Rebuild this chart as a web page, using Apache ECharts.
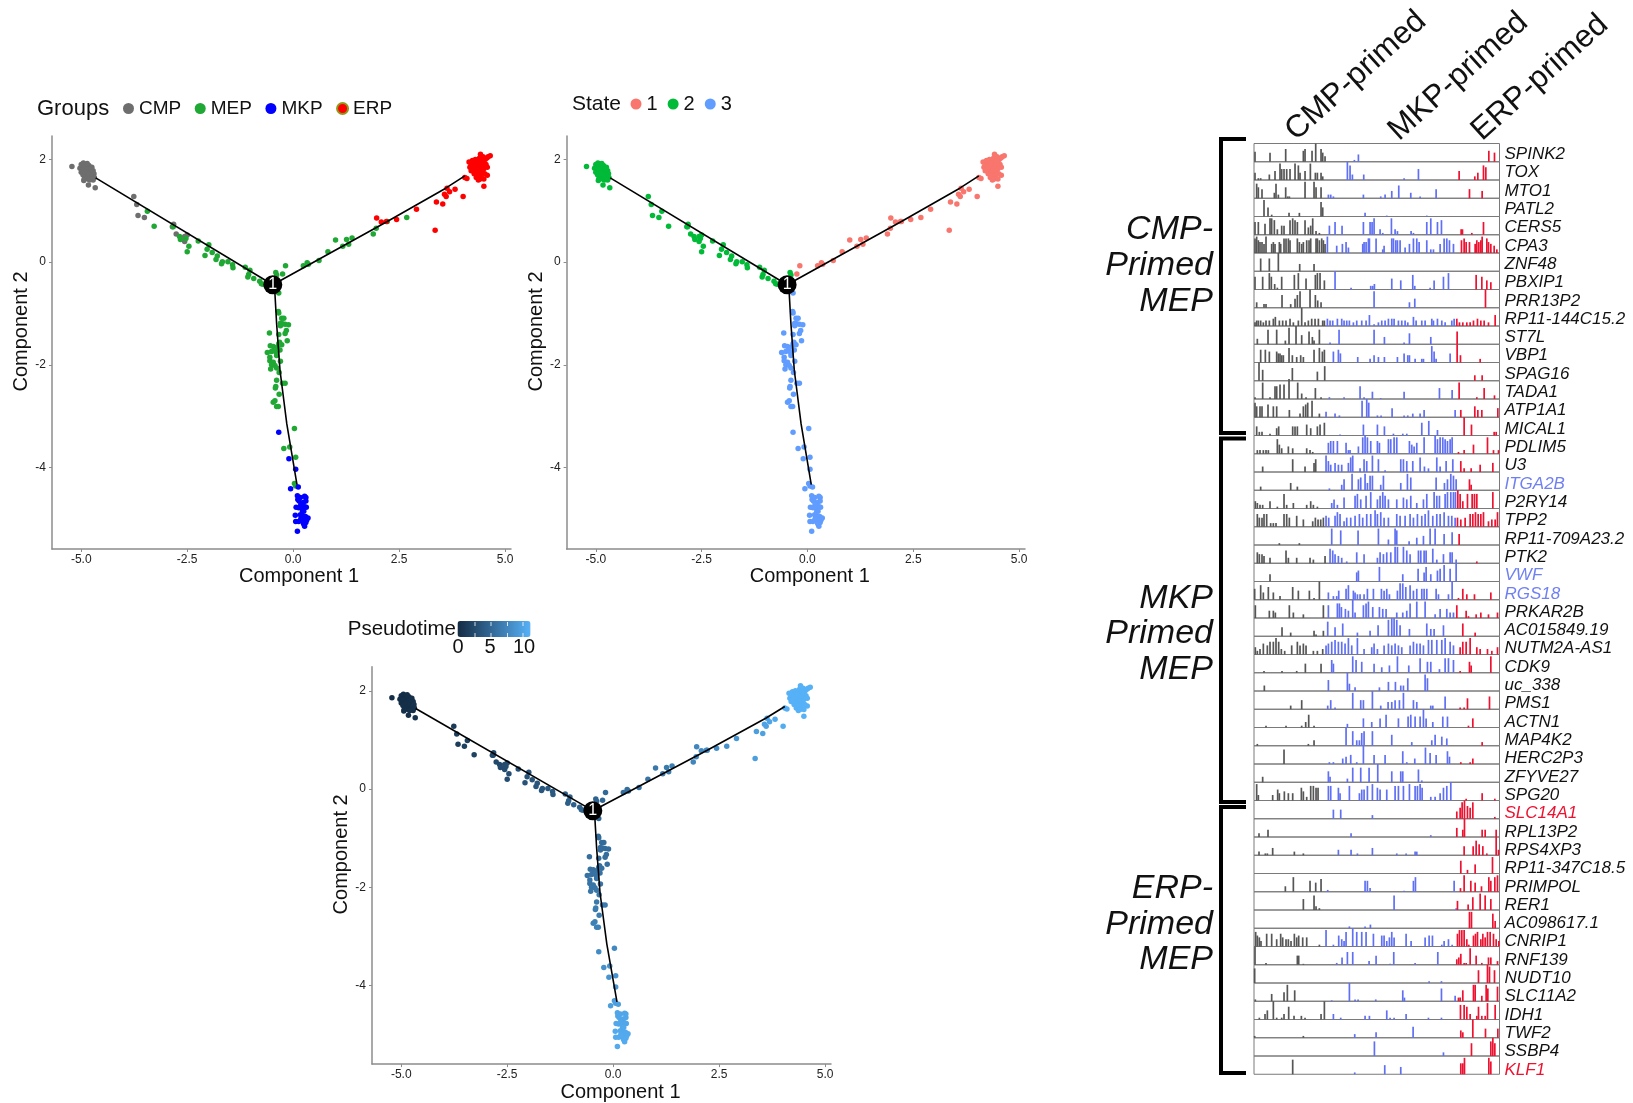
<!DOCTYPE html>
<html><head><meta charset="utf-8"><title>MEP priming</title>
<script src="https://cdn.jsdelivr.net/npm/echarts@6/dist/echarts.min.js"></script>
<style>html,body{margin:0;padding:0;background:#fff}#c{width:1633px;height:1103px}</style>
</head><body><div id="c"></div>
<script>
// ---------- trajectory cells: [component1, component2, state, pseudotime] ----------
const cmpCells = [[-5.22,1.86,2,.2],[-4.67,1.45,2,.5],[-4.83,1.5,2,.4],[-4.94,1.59,2,.3],[-5.03,1.83,2,.2],[-5,1.9,2,.2],[-4.97,1.78,2,.2],[-4.95,1.93,2,.2],[-4.93,1.85,2,.2],[-4.92,1.72,2,.3],[-4.9,1.8,2,.3],[-4.9,1.66,2,.3],[-4.88,1.9,2,.3],[-4.87,1.75,2,.3],[-4.86,1.68,2,.3],[-4.85,1.84,2,.3],[-4.84,1.62,2,.4],[-4.82,1.78,2,.3],[-4.82,1.88,2,.3],[-4.8,1.7,2,.4],[-4.79,1.8,2,.4],[-4.78,1.64,2,.4],[-4.76,1.74,2,.4],[-4.75,1.85,2,.4],[-4.74,1.68,2,.4],[-4.72,1.6,2,.5],[-4.72,1.78,2,.4],[-4.7,1.72,2,.5],[-4.69,1.65,2,.5],[-5,1.75,2,.2],[-4.96,1.7,2,.3],[-4.93,1.62,2,.3],[-4.88,1.82,2,.3],[-4.84,1.72,2,.3],[-4.8,1.6,2,.4],[-4.77,1.82,2,.4],[-4.75,1.62,2,.4],[-4.91,1.76,2,.3],[-4.86,1.92,2,.3],[-4.95,1.82,2,.2],[-3.76,1.28,2,1.2],[-3.69,1.12,2,1.3],[-3.66,.91,2,1.3],[-3.51,.87,2,1.5],[-2.82,.74,2,2.1],[-2.85,.69,2,2.1],[-2.76,.55,2,2.2],[-2.5,.53,2,2.4],[-2.56,.4,2,2.4],[-2.56,.5,2,2.4]];
const mepCells = [[-3.44,.99,2,1.5],[-3.28,.7,2,1.7],[-2.83,.69,2,2.1],[-2.68,.5,2,2.2],[-2.66,.44,2,2.3],[-2.53,.46,2,2.4],[-2.46,.31,2,2.5],[-2.5,.2,2,2.5],[-2.24,.41,2,2.7],[-1.99,.34,2,2.9],[-2.03,.25,2,2.9],[-2.08,.13,2,2.9],[-1.91,.19,2,3],[-1.79,.12,2,3.1],[-1.82,.05,2,3.1],[-1.67,.01,2,3.2],[-1.69,-.03,2,3.2],[-1.54,.01,2,3.3],[-1.43,-.05,2,3.4],[-1.42,-.11,2,3.4],[-1.13,-.1,2,3.7],[-1.02,-.16,2,3.8],[-1.05,-.24,2,3.8],[-1.07,-.29,2,3.8],[-.93,-.32,2,3.9],[-.79,-.37,2,4],[-.75,-.42,2,4],[-.71,-.43,2,4.1],[-.41,-.2,2,4.2],[-.39,-.25,2,4.2],[-.25,-.23,1,4.4],[-.18,-.07,1,4.5],[-.34,-.6,3,4.3],[.24,-.07,1,4.8],[.33,-.01,1,4.9],[.36,-.04,1,4.9],[.61,.03,1,5.1],[.82,.2,1,5.4],[1,.43,1,5.6],[1.17,.31,1,5.8],[1.26,.44,1,5.9],[1.31,.35,1,6],[1.39,.47,1,6.1],[1.89,.55,1,6.6],[1.96,.66,1,6.7],[2.22,.79,1,7],[2.68,.87,1,7.5],[-.35,-.96,3,4.6],[-.34,-.99,3,4.6],[-.27,-1.09,3,4.7],[-.22,-1.09,3,4.7],[-.3,-1.19,3,4.8],[-.25,-1.2,3,4.8],[-.19,-1.21,3,4.8],[-.11,-1.22,3,4.8],[-.3,-1.24,3,4.8],[-.16,-1.33,3,4.9],[-.19,-1.39,3,4.9],[-.56,-1.38,3,4.9],[-.34,-1.41,3,4.9],[-.14,-1.53,3,5],[-.32,-1.56,3,5],[-.34,-1.59,3,5],[-.27,-1.61,3,5],[-.54,-1.63,3,5.1],[-.47,-1.64,3,5.1],[-.37,-1.65,3,5.1],[-.61,-1.76,3,5.2],[-.51,-1.74,3,5.2],[-.43,-1.73,3,5.2],[-.39,-1.77,3,5.2],[-.31,-1.71,3,5.2],[-.39,-1.82,3,5.3],[-.55,-1.85,3,5.3],[-.55,-1.92,3,5.3],[-.3,-1.93,3,5.4],[-.47,-1.95,3,5.4],[-.51,-2,3,5.4],[-.43,-2.01,3,5.4],[-.53,-2.08,3,5.5],[-.39,-2.06,3,5.5],[-.33,-2.15,3,5.6],[-.39,-2.3,3,5.7],[-.25,-2.36,3,5.8],[-.19,-2.36,3,5.8],[-.42,-2.45,3,5.9],[-.41,-2.42,3,5.9],[-.33,-2.57,3,6],[-.47,-2.73,3,6.2],[-.43,-2.7,3,6.2],[-.39,-2.81,3,6.3],[-.35,-2.81,3,6.3],[.03,-3.24,3,6.9],[-.08,-3.6,3,7.4],[-.22,-3.63,3,7.4],[.06,-3.8,3,7.7],[.03,-4.31,3,8.3],[.06,-4.36,3,8.4]];
const mkpCells = [[-.34,-3.31,3,7],[-.1,-3.83,3,7.7],[.06,-4.03,3,8],[-.06,-4.41,3,8.4],[.12,-4.38,3,8.4],[.1,-5.24,3,9.3],[.1,-4.55,3,9],[.11,-4.62,3,9],[.14,-4.65,3,9],[.17,-4.58,3,9],[.27,-4.56,3,9],[.3,-4.58,3,9],[.3,-4.65,3,9],[.24,-4.68,3,9],[.18,-4.72,3,9],[.07,-4.77,3,9.1],[.13,-4.78,3,9.1],[.2,-4.78,3,9.1],[.27,-4.76,3,9.1],[.31,-4.77,3,9.1],[.22,-4.85,3,9.2],[.25,-4.85,3,9.2],[.05,-4.93,3,9.2],[.17,-4.92,3,9.2],[.2,-4.98,3,9.2],[.24,-4.95,3,9.2],[.29,-4.95,3,9.2],[.35,-4.98,3,9.2],[.32,-5.02,3,9.3],[.27,-5.03,3,9.3],[.22,-5.02,3,9.3],[.06,-5.05,3,9.3],[.13,-5.05,3,9.3],[.3,-5.07,3,9.3],[.25,-5.1,3,9.3],[.27,-5.14,3,9.3],[.24,-5.08,3,9.3],[.18,-5,3,9.3]];
const erpCells = [[1.97,.86,1,6.7],[2.08,.78,1,6.9],[2.2,.79,1,7],[2.44,.83,1,7.2],[2.91,1.03,1,7.8],[3.35,.62,1,8.4],[3.38,1.17,1,8.4],[3.53,1.13,1,8.6],[3.57,1.32,1,8.7],[3.61,1.28,1,8.8],[3.63,1.44,1,8.8],[3.69,1.37,1,8.9],[3.82,1.42,1,9.1],[4.01,1.28,1,9.4],[4.05,1.65,1,9.5],[4.1,1.63,1,9.6],[4.5,1.48,1,10.2],[4.58,1.69,1,10.3],[4.15,1.95,1,10.2],[4.17,1.85,1,10.2],[4.2,1.9,1,10.3],[4.2,1.78,1,10.3],[4.23,1.98,1,10.3],[4.25,1.85,1,10.3],[4.27,1.72,1,10.3],[4.28,1.92,1,10.3],[4.3,1.8,1,10.4],[4.3,2,1,10.4],[4.32,1.65,1,10.4],[4.33,1.88,1,10.4],[4.35,1.75,1,10.4],[4.36,1.95,1,10.4],[4.37,1.6,1,10.4],[4.38,1.85,1,10.4],[4.4,2.03,1,10.4],[4.4,1.7,1,10.4],[4.41,1.92,1,10.4],[4.42,1.8,1,10.4],[4.42,2.1,1,10.5],[4.44,1.65,1,10.5],[4.45,1.98,1,10.5],[4.46,1.87,1,10.5],[4.47,1.75,1,10.5],[4.48,2.05,1,10.5],[4.5,1.92,1,10.5],[4.5,1.82,1,10.5],[4.52,1.72,1,10.5],[4.53,2,1,10.5],[4.55,1.9,1,10.5],[4.57,2.03,1,10.6],[4.6,2.05,1,10.6],[4.65,2.07,1,10.6],[4.34,1.82,1,10.4],[4.39,1.78,1,10.4],[4.44,1.9,1,10.5],[4.28,1.85,1,10.3],[4.33,1.93,1,10.4],[4.47,1.97,1,10.5],[4.37,1.7,1,10.4],[4.41,1.62,1,10.4],[4.24,1.8,1,10.3],[4.58,1.85,1,10.6],[4.5,1.62,1,10.5]];
// ---------- backbone of the tree ----------
const branchPoint = [-.48,-.44];
const backboneLeft = [[-4.66,1.64],[-.48,-.44]];
const backboneRight = [[-.48,-.44],[2.22,.79],[3.6,1.44],[4.05,1.68]];
const backboneDown = [[-.48,-.44],[-.43,-.61],[-.39,-1.2],[-.31,-2.11],[-.15,-3.15],[.09,-4.33]];
const xTicks = [-5,-2.5,0,2.5,5];
const yTicks = [-4,-2,0,2];
const pseudotimeTicks = [0,5,10];
const pseudotimeColors = ['#132B43','#56B1F7'];
const groupNames = ['CMP','MEP','MKP','ERP'];
const groupColors = ['#6e6e6e','#1fa834','#0000ff','#ff0000'];
const stateNames = ['1','2','3'];
const stateColors = ['#F8766D','#00BA38','#619CFF'];

// ---------- heat-strip panel ----------
const geneNames = ['SPINK2','TOX','MTO1','PATL2','CERS5','CPA3','ZNF48','PBXIP1','PRR13P2','RP11-144C15.2','ST7L','VBP1','SPAG16','TADA1','ATP1A1','MICAL1','PDLIM5','U3','ITGA2B','P2RY14','TPP2','RP11-709A23.2','PTK2','VWF','RGS18','PRKAR2B','AC015849.19','NUTM2A-AS1','CDK9','uc_338','PMS1','ACTN1','MAP4K2','HERC2P3','ZFYVE27','SPG20','SLC14A1','RPL13P2','RPS4XP3','RP11-347C18.5','PRIMPOL','RER1','AC098617.1','CNRIP1','RNF139','NUDT10','SLC11A2','IDH1','TWF2','SSBP4','KLF1'];
const mkpMarkers = ['ITGA2B','VWF','RGS18'];
const erpMarkers = ['SLC14A1','KLF1'];
const primedNames = ['CMP-primed','MKP-primed','ERP-primed'];
const primedColors = ['#565656','#5f70f4','#ee1230'];
const cellFirst = 42, cellLast = 778, cmpLastCell = 256, mkpLastCell = 649.5;
// flat lists per gene: cell rank, expression, cell rank, expression ...
const geneExpression = [
[45,5.5,90,5,137,7,190,6,195,7,216,6,227,10,243,7,248,5,255,3,343,1,355,4,746,6,763,5],
[45,4,55,1,62,1,88,3,105,5,120,9,125,6,132,6,140,6,150,6,165,9,175,8,180,4,195,5,211,9,226,4,232,4,243,4,248,2,322,10,330,8,337,3,371,3,492,1,535,6,657,5,704,2,713,4,730,8,737,7],
[50,8,55,6,66,5,103,3,108,8,115,2,137,6,143,1,148,1,195,9,222,9,228,6,243,6,265,2,272,2,280,1,370,2,422,1,435,2,455,4,476,7,512,3,540,1,588,5,688,5,726,4],
[72,9,84,5,95,1,147,2,178,2,243,8,248,5,375,2,440,.5,560,.5],
[45,7,55,7,75,6,90,9,95,9,103,8,112,3,125,5,132,5,150,8,158,9,165,8,172,7,195,8,205,4,212,5,218,9,228,2,238,1,268,5,285,7,306,5,370,7,390,7,396,7,402,9,420,3,428,1,454,9,465,3,472,2,513,2,520,1,560,7,572,9,592,7,604,8,663,3,667,3,695,1,730,7],
[45,8,50,9,55,7,60,6,66,6,72,5,78,9,95,5,100,6,105,5,118,6,122,5,132,8,138,8,145,8,150,7,172,8,178,6,185,5,190,6,200,7,207,7,212,8,228,8,232,8,238,7,245,8,250,7,255,5,262,9,290,4,307,5,318,6,325,3,368,5,372,6,378,6,385,8,388,8,408,8,428,2,432,4,455,8,460,8,467,7,472,7,480,7,495,3,508,5,520,8,530,8,537,6,560,7,572,2,580,2,600,5,612,8,620,8,628,7,640,5,664,7,672,8,678,6,688,6,705,5,710,7,716,6,722,7,726,9,740,8,745,6,752,5,762,4,770,2],
[62,7,88,7,115,10,179,4,222,4],
[45,7,68,7,88,9,94,7,104,3,112,1,125,7,163,8,175,9,198,6,226,8,232,9,240,9,253,5,285,10,333,1,392,2,398,2,403,3,455,6,482,5,518,8,524,2,570,1,582,5,610,7,625,9,708,8,725,7,740,5,752,4],
[50,3,72,2,78,2,126,7,152,2,165,5,172,7,180,9,210,10,226,7,233,4,243,3,402,9,508,3,524,5,736,10],
[45,2,50,3,55,3,62,3,70,2,78,3,88,3,100,4,106,5,118,3,128,3,138,3,150,4,160,2,175,3,185,10,195,2,205,3,215,4,225,4,235,4,248,3,253,3,262,4,270,3,278,3,292,4,305,4,312,3,320,3,328,3,340,2,350,3,365,3,378,3,388,6,402,1,415,2,425,3,435,3,445,4,455,4,462,4,475,3,485,3,495,3,503,2,520,5,528,3,545,3,555,3,575,4,580,3,592,4,605,3,615,2,635,3,642,4,650,4,658,2,668,2,680,2,690,2,700,3,712,4,722,3,732,3,745,2,765,6],
[52,3,84,8,110,8,136,2,147,9,168,10,185,5,207,7,217,4,222,2,238,8,270,1,297,8,402,8,433,4,492,1,508,6,572,4,651,7],
[62,7,76,7,88,6,110,6,115,5,120,5,125,4,130,4,147,8,157,4,170,3,182,4,190,3,222,7,238,8,247,6,253,7,280,6,295,7,301,5,353,3,390,2,402,4,415,3,433,3,472,3,492,5,503,4,508,4,525,2,545,2,550,2,575,9,582,6,588,2,630,5,651,10,661,4,720,2],
[57,10,68,6,147,1,157,7,232,5,254,8,704,3,726,3],
[45,1,68,9,90,1,105,7,110,7,120,8,132,8,147,10,173,9,185,3,198,1,226,6,243,1,268,1,312,1,360,7,372,1,397,4,422,.5,492,4,598,6,636,5,657,9,710,1,732,6,763,2],
[45,8,50,6,60,6,66,6,84,7,100,6,110,6,148,4,180,2,190,6,197,7,203,8,216,9,238,2,258,3,285,2,298,1,366,9,380,10,386,8,412,1,423,1,456,5,492,1,503,1,518,2,540,2,552,4,645,4,662,4,704,6,713,4,725,4,773,5],
[50,5,58,2,66,2,90,1,110,4,116,5,158,5,165,5,172,5,200,6,212,4,232,5,240,6,253,7,300,.5,370,6,412,6,433,5,460,1,488,1,500,1,545,7,566,8,592,3,672,10,694,6,762,2,768,2],
[52,2,60,2,70,2,78,2,85,2,112,8,118,5,125,3,145,4,158,3,200,3,210,2,218,1,265,6,272,7,280,7,292,7,318,6,325,2,330,2,355,4,368,9,375,10,382,9,392,7,412,7,418,6,445,8,452,8,462,9,470,9,508,7,515,5,522,4,530,6,552,9,585,10,592,8,600,9,608,9,615,8,622,7,630,8,636,9,655,1,672,2,700,5,742,9,760,2,775,2],
[68,3,158,7,195,3,222,5,227,7,258,9,265,6,272,4,285,5,295,4,305,4,325,5,332,8,338,9,360,2,372,7,380,6,397,9,415,7,435,1,482,7,490,7,500,6,518,6,540,8,553,3,565,2,590,8,600,3,618,6,638,7,662,6,672,2,693,2,720,4,758,5],
[62,2,152,4,172,2,268,1,305,3,312,6,336,9,355,6,362,7,375,9,382,4,390,8,397,8,422,3,430,8,482,4,502,9,512,7,588,7,613,4,622,6,632,9,640,8,648,6,688,6,693,3],
[46,4,52,3,60,2,68,2,90,4,112,1,132,8,140,2,160,3,200,2,212,4,220,2,232,1,275,3,282,5,292,2,312,6,345,7,352,8,362,5,378,7,392,9,412,5,420,7,428,9,435,7,445,5,470,5,490,6,500,5,512,7,530,3,550,5,560,8,582,9,590,7,598,7,615,8,622,9,632,9,640,9,646,9,653,10,660,8,668,4,682,8,696,8,703,8,710,8,758,9],
[52,7,58,5,66,5,72,7,80,7,92,2,100,2,108,2,132,7,140,7,148,5,170,6,190,4,218,3,226,5,234,4,242,4,250,5,258,6,266,5,285,6,292,8,300,7,312,3,320,5,332,5,345,6,358,7,368,5,380,7,392,7,405,9,412,7,422,8,432,5,445,5,470,7,480,6,495,6,510,7,520,5,532,7,545,6,555,7,565,9,578,6,590,7,600,7,612,8,625,6,635,6,645,5,652,5,662,4,675,5,690,7,698,7,706,8,714,7,722,7,730,8,745,3,755,4,765,4,772,8],
[118,1,178,1,275,9,302,8,354,8,415,9,445,3,465,9,470,8,507,2,530,4,550,5,570,9,585,9,612,6,636,7,657,6],
[52,6,58,5,66,5,72,4,90,3,138,7,145,3,170,3,210,3,220,2,255,4,270,8,278,7,285,5,295,4,305,3,320,1,350,6,372,5,412,3,420,6,430,5,440,6,452,6,465,9,472,9,490,9,500,7,510,5,535,7,542,7,552,7,558,7,578,8,590,2,610,5,630,6,636,6,648,2,710,1],
[90,4,350,5,355,6,418,8,488,4,534,7,552,5,558,8,572,4,592,6,600,7,612,9,630,7,648,10],
[44,6,62,8,70,4,85,7,100,4,120,2,158,7,175,5,208,5,222,1,238,10,265,4,280,2,290,2,296,5,318,6,325,8,340,5,345,4,352,3,360,3,372,3,382,6,400,6,424,6,432,5,440,6,448,3,472,5,480,9,488,9,497,7,510,8,520,5,530,6,545,6,552,6,560,6,588,6,595,3,625,3,636,10,655,1,668,6,680,3,703,3,752,4],
[46,7,88,4,100,4,106,3,148,7,160,3,190,2,250,7,265,7,292,8,298,8,304,6,316,5,325,4,338,10,345,3,370,7,378,8,385,9,398,6,418,6,428,5,438,5,470,3,488,3,500,4,510,8,530,9,555,9,585,2,600,5,620,5,630,3,640,3,650,7,678,4,685,1,708,2,722,3,745,2,772,3],
[126,5,152,2,222,3,228,1,250,3,263,8,285,5,308,7,352,2,390,3,414,6,445,9,455,10,462,10,470,9,480,6,508,4,560,7,572,4,582,4,610,6,668,7,705,2],
[46,4,52,2,60,3,70,6,82,5,90,7,100,7,108,9,116,7,124,3,134,2,155,5,172,7,180,5,190,6,198,5,220,2,232,2,248,3,258,5,265,6,275,7,285,8,295,7,305,7,315,6,325,9,335,5,352,9,372,3,395,4,402,6,412,3,432,5,445,6,455,5,465,6,475,5,485,4,510,5,520,7,530,6,540,6,550,5,565,8,575,8,590,8,605,8,615,9,630,7,640,5,660,4,668,7,678,7,690,9,710,4,720,3,742,3,755,2,772,4],
[72,1,126,1,170,1,196,5,243,5,275,7,280,5,338,9,348,7,365,6,402,5,425,3,448,4,472,9,506,4,540,8,562,6,572,6,598,2,615,8,625,8,640,7,660,1,688,6,693,4,752,9],
[73,3,265,6,322,10,328,4,345,2,418,2,445,5,466,5,482,3,490,3,503,7,555,9,562,7],
[152,2,185,5,263,2,272,5,285,1,338,9,362,5,370,5,397,10,422,2,444,4,455,4,465,5,478,5,490,9,520,5,530,4,572,2,578,2,615,7,660,1,672,1,682,6,748,7],
[78,1,138,1,185,1,197,3,206,7,222,1,322,2,370,5,395,3,420,5,438,7,475,5,504,6,512,7,525,6,540,6,550,10,558,5,578,3,608,6,622,6,685,1,698,5],
[52,1,205,1,222,3,318,10,338,8,350,3,358,3,365,7,372,8,397,8,455,6,515,2,575,3,585,6,605,5,620,4,726,2],
[132,8,268,1,280,1,308,3,318,4,332,5,350,1,370,10,402,5,435,5,488,7,500,1,524,3,556,9,570,6,588,5,622,7,628,4,662,1,690,1,698,3],
[68,3,265,6,270,3,322,2,338,8,362,8,387,8,413,10,455,6,482,6,488,6,535,7,545,1],
[50,9,55,3,98,3,113,6,118,4,133,5,145,4,158,4,184,7,190,5,200,2,212,8,220,8,228,7,234,7,265,8,272,8,295,7,300,4,328,8,358,4,365,6,372,6,382,8,397,9,412,7,420,6,440,6,465,8,475,8,490,8,508,9,525,8,532,8,540,9,546,7,572,2,585,2,600,4,610,7,620,8,632,10,678,1,726,4,764,1],
[280,5,302,5,397,2,650,4,660,6,666,9,673,10,682,7,690,6,698,9,764,1],
[57,2,84,4,333,2,572,1,650,5,668,4,673,10,726,4,735,4,768,4],
[57,2,76,1,82,1,98,4,163,2,190,1,295,3,333,3,352,1,397,4,470,1,498,1,525,2,530,2,672,5,699,5,708,8,717,6,728,5,740,1,768,10,775,3],
[662,7,682,2,705,5,757,9],
[136,3,160,8,210,6,227,5,243,7,263,1,375,6,382,6,390,2,492,.5,520,6,526,8,642,6,661,2,672,9,692,6,705,5,724,3,746,8,752,6,764,8,772,9],
[190,6,222,8,228,2,238,1,462,8,648,1,652,5,684,3,698,7,720,9,735,8,752,6],
[328,1,375,1,391,2,688,9,694,9,758,8,765,4],
[47,8,52,6,58,5,63,3,80,7,95,7,110,4,122,7,128,5,138,4,145,4,153,3,163,7,170,5,176,6,188,5,200,5,238,1,258,9,280,1,296,6,305,4,312,3,318,8,338,10,350,8,365,8,378,8,400,7,425,6,432,6,440,3,448,5,455,8,462,5,498,7,513,3,555,5,567,6,577,6,605,1,612,3,625,4,636,1,652,7,658,9,665,9,672,9,680,4,686,1,700,6,706,7,712,8,722,4,728,7,735,5,742,8,750,8,760,7,768,4,776,3],
[45,10,78,1,172,5,176,5,190,.5,290,1,306,4,322,7,338,7,387,2,408,5,450,.5,461,7,525,1,593,7,650,3,656,4,662,6,672,1,678,1,690,9,708,5,725,1,745,4,752,4,772,2],
[44,8,567,1,604,1,715,7,742,10,748,9,763,7],
[46,1,95,4,132,5,142,9,164,6,275,.5,328,10,345,1,354,1,407,1,488,6,493,2,604,7,645,3,655,2,660,2,668,6,700,9,705,9,725,3,738,9,743,7,772,8],
[58,1,75,3,82,5,100,10,110,1,125,1,132,3,146,7,162,2,184,2,195,1,243,3,253,10,280,3,302,1,375,2,388,2,440,5,450,1,462,1,498,3,565,1,604,1,661,8,672,8,680,7,690,3,710,2,715,7,725,2,735,2,742,9,765,8],
[44,1,190,1,344,2,408,3,519,6,662,4,668,3,698,10,736,5,773,5],
[403,8,610,2,694,7,752,8,758,10,764,7],
[158,8,344,1,434,5,482,4,662,6,668,6,673,9,746,9,752,7]
];
const bracketLabels = [['CMP-','Primed','MEP'],['MKP','Primed','MEP'],['ERP-','Primed','MEP']];

// ---------- layout ----------
const FONT = '"Liberation Sans", Arial, sans-serif';
const panels = [
  {left:52,  right:511, top:136, bottom:549,  xMin:-5.69, xMax:5.14, yMin:-5.585, yMax:2.456, xPad:35, yPad:22},
  {left:566.6,right:1025,top:136, bottom:549, xMin:-5.69, xMax:5.14, yMin:-5.585, yMax:2.456, xPad:28, yPad:22},
  {left:372, right:831, top:666.7,bottom:1067,xMin:-5.69, xMax:5.14, yMin:-5.597, yMax:2.49,  xPad:38, yPad:22}
];
const grid=[], xAxis=[], yAxis=[], series=[], graphic=[];
const AXC='#8c8c8c';
panels.forEach((p,pi)=>{
  grid.push({left:p.left,top:p.top,width:p.right-p.left,height:p.bottom-p.top,show:false});
  xAxis.push({gridIndex:pi,type:'value',position:'bottom',min:p.xMin,max:p.xMax,name:'Component 1',nameLocation:'middle',nameGap:16,
    nameTextStyle:{fontFamily:FONT,fontSize:20,color:'#111',padding:[0,0,0,p.xPad]},
    axisLine:{show:true,onZero:false,lineStyle:{color:AXC,width:1.5}},
    axisTick:{show:true,length:3,lineStyle:{color:AXC},customValues:xTicks},
    axisLabel:{fontFamily:FONT,fontSize:12,color:'#222',margin:5,customValues:xTicks,formatter:v=>v.toFixed(1)},
    splitLine:{show:false}});
  yAxis.push({gridIndex:pi,type:'value',position:'left',min:p.yMin,max:p.yMax,name:'Component 2',nameLocation:'middle',nameGap:20,
    nameTextStyle:{fontFamily:FONT,fontSize:20,color:'#111',padding:[0,0,0,p.yPad]},
    axisLine:{show:true,onZero:false,lineStyle:{color:AXC,width:1.5}},
    axisTick:{show:true,length:3,lineStyle:{color:AXC},customValues:yTicks},
    axisLabel:{fontFamily:FONT,fontSize:12,color:'#222',margin:6,customValues:yTicks,formatter:v=>String(v)},
    splitLine:{show:false}});
});
function tree(i){
  [backboneLeft,backboneRight,backboneDown].forEach(b=>series.push({type:'line',xAxisIndex:i,yAxisIndex:i,data:b,symbol:'none',silent:true,z:4,lineStyle:{color:'#000',width:1.6}}));
  series.push({type:'scatter',xAxisIndex:i,yAxisIndex:i,data:[branchPoint],symbolSize:19,z:5,itemStyle:{color:'#000',opacity:1},
    label:{show:true,position:'inside',formatter:'1',color:'#fff',fontFamily:FONT,fontSize:16}});
}
const allCells=[...cmpCells,...mepCells,...mkpCells,...erpCells];
[cmpCells,mepCells,mkpCells,erpCells].forEach((d,k)=>series.push({type:'scatter',name:groupNames[k],xAxisIndex:0,yAxisIndex:0,data:d.map(c=>[c[0],c[1]]),symbolSize:5.5,itemStyle:{color:groupColors[k],opacity:1},z:2}));
tree(0);
stateNames.forEach((s,k)=>series.push({type:'scatter',name:s,xAxisIndex:1,yAxisIndex:1,data:allCells.filter(c=>String(c[2])===s).map(c=>[c[0],c[1]]),symbolSize:5.5,itemStyle:{color:stateColors[k],opacity:1},z:2}));
tree(1);
const pseudoIndex=series.length;
series.push({type:'scatter',name:'Pseudotime',xAxisIndex:2,yAxisIndex:2,data:allCells.map(c=>[c[0],c[1],c[3]]),symbolSize:5.5,itemStyle:{opacity:1},z:2});
tree(2);

// strips
const stripLeft=1254, stripWidth=245.5, stripTop=143.5, stripH=18.25;
geneNames.forEach((g,i)=>{
  const gi=grid.length;
  grid.push({left:stripLeft,top:stripTop+stripH*i,width:stripWidth,height:stripH,show:true,borderColor:'#7a7a7a',borderWidth:1,backgroundColor:'transparent'});
  const col=mkpMarkers.includes(g)?'#6f80f2':erpMarkers.includes(g)?'#ee1230':'#111';
  xAxis.push({gridIndex:gi,type:'value',min:cellFirst,max:cellLast,name:g,nameLocation:'end',nameGap:5,
    nameTextStyle:{fontFamily:FONT,fontStyle:'italic',fontSize:17,color:col,align:'left',verticalAlign:'bottom',lineHeight:14.9-6.2*i/50},
    axisLine:{show:false},axisTick:{show:false},axisLabel:{show:false},splitLine:{show:false}});
  yAxis.push({gridIndex:gi,type:'value',min:0,max:10,axisLine:{show:false},axisTick:{show:false},axisLabel:{show:false},splitLine:{show:false}});
  const flat=geneExpression[i], data=[];
  for(let k=0;k<flat.length;k+=2){
    const c=flat[k];
    data.push({value:[c,flat[k+1]],itemStyle:{color:primedColors[c<cmpLastCell?0:c<mkpLastCell?1:2]}});
  }
  series.push({type:'bar',name:g,xAxisIndex:gi,yAxisIndex:gi,data,barWidth:1.7,silent:true,clip:true});
});

// annotations
[[139,433],[438.5,802],[807,1073]].forEach(b=>graphic.push({type:'polyline',silent:true,shape:{points:[[1246,b[0]],[1221,b[0]],[1221,b[1]],[1246,b[1]]]},style:{stroke:'#000',lineWidth:4,fill:null}}));
[[229.5,266,301.5],[598.5,633.5,669.5],[888.5,924.5,959.5]].forEach((ys,k)=>ys.forEach((y,j)=>graphic.push({type:'text',silent:true,x:1213,y,style:{text:bracketLabels[k][j],fontFamily:FONT,fontStyle:'italic',fontSize:34,fill:'#111',align:'right',verticalAlign:'middle'}})));
[[1301,147],[1404,147],[1487,147]].forEach((p,k)=>graphic.push({type:'text',silent:true,x:p[0],y:p[1],rotation:42*Math.PI/180,style:{text:primedNames[k],fontFamily:FONT,fontSize:31.5,fill:'#111',align:'left',verticalAlign:'bottom'}}));
const txt=(text,x,y,size,align)=>graphic.push({type:'text',silent:true,z:100,x,y,style:{text,fontFamily:FONT,fontSize:size,fill:'#111',align:align||'left',verticalAlign:'middle'}});
txt('Groups',37,109,22);
txt('State',572,104.5,21);
txt('Pseudotime',456,629.5,20.5,'right');
const ptX=[458,490,524];
pseudotimeTicks.forEach((t,k)=>txt(String(t),ptX[k],647,20,'center'));
[475,491,507.5,523].forEach(x=>{[[622,626],[633,637]].forEach(s=>graphic.push({type:'line',silent:true,z:100,shape:{x1:x,y1:s[0],x2:x,y2:s[1]},style:{stroke:'rgba(255,255,255,0.8)',lineWidth:1}}));});

const option={
  animation:false,backgroundColor:'#fff',
  grid,xAxis,yAxis,series,graphic,
  legend:[
    {left:118,top:94,itemWidth:11,itemHeight:11,itemGap:13.5,selectedMode:false,icon:'circle',
     textStyle:{fontFamily:FONT,fontSize:19,color:'#111'},
     data:[{name:'CMP'},{name:'MEP'},{name:'MKP'},{name:'ERP',itemStyle:{color:'#ff0000',borderColor:'#8f9a1a',borderWidth:2}}]},
    {left:625.5,top:89,itemWidth:11,itemHeight:11,itemGap:10,selectedMode:false,icon:'circle',
     textStyle:{fontFamily:FONT,fontSize:20,color:'#111'},
     data:stateNames.map(n=>({name:n}))}
  ],
  visualMap:{type:'continuous',seriesIndex:pseudoIndex,dimension:2,min:0,max:9.8,orient:'horizontal',left:442.5,top:606,itemWidth:16,itemHeight:73,calculable:false,showLabel:false,text:null,inRange:{color:pseudotimeColors}}
};
const chart=echarts.init(document.getElementById('c'),null,{renderer:'canvas'});
chart.setOption(option);
</script></body></html>
